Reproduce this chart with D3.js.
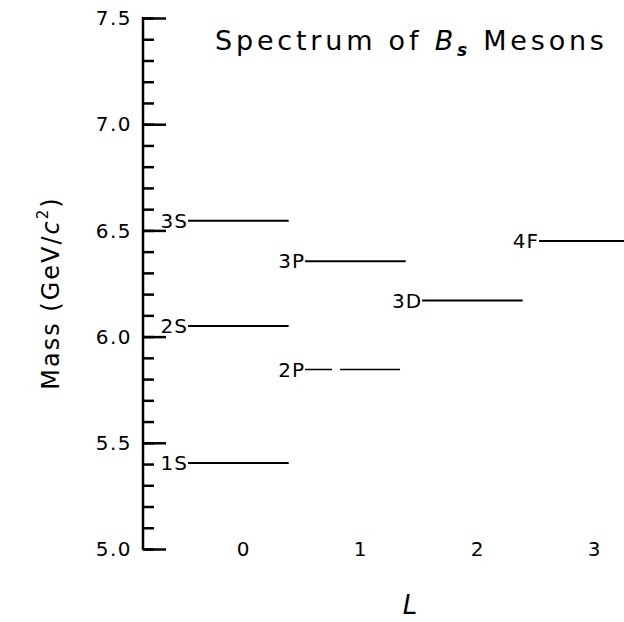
<!DOCTYPE html>
<html><head><meta charset="utf-8">
<script src="https://cdn.jsdelivr.net/npm/d3@7"></script>
<style>body{margin:0;background:#fff}text{font-family:"DejaVu Sans",sans-serif;fill:#000}</style>
</head><body><svg id="c" width="624" height="622"></svg>
<script>
const states = ["1S","2S","3S","2P","3P","3D","4F"];
const Lvals  = [0,0,0,1,1,2,3];
const masses = [5.405,6.05,6.545,5.845,6.355,6.17,6.45];
const xTicks = [0,1,2,3];
const yMajor = [5.0,5.5,6.0,6.5,7.0,7.5];

const svg = d3.select("#c");
const x = d3.scaleLinear().domain([-0.855,3.256]).range([143,624]);
const y = d3.scaleLinear().domain([5,7.5]).range([549,18]);

// y axis
const yAxisMinor = d3.axisRight(y).tickValues(d3.range(50,76).map(v=>v/10)).tickSize(11).tickFormat("");
const gMin = svg.append("g").attr("transform","translate(143,0)").call(yAxisMinor);
gMin.select(".domain").remove();
gMin.selectAll("line").attr("stroke","#000").attr("stroke-width",2.5);
const yAxisMajor = d3.axisRight(y).tickValues(yMajor).tickSize(23).tickFormat("");
const gMaj = svg.append("g").attr("transform","translate(143,0)").call(yAxisMajor);
gMaj.select(".domain").remove();
gMaj.selectAll("line").attr("stroke","#000").attr("stroke-width",2.5);
svg.append("line").attr("x1",143).attr("x2",143).attr("y1",y(5)+1).attr("y2",y(7.5)-1).attr("stroke","#000").attr("stroke-width",2.5);
svg.append("g").selectAll("text").data(yMajor).join("text")
  .attr("x",132).attr("y",d=>y(d)).attr("dy","0.36em").attr("text-anchor","end")
  .attr("font-size",20).attr("letter-spacing",1.5).text(d=>d.toFixed(1));

// x tick labels
svg.append("g").selectAll("text").data(xTicks).join("text")
  .attr("x",d=>x(d)).attr("y",y(5)).attr("dy","0.36em").attr("text-anchor","middle")
  .attr("font-size",20).text(d=>d);

// levels
const lv = svg.append("g");
states.forEach((s,i)=>{
  const x1 = x(Lvals[i]-0.47), x2 = x(Lvals[i]+0.39);
  const ln = lv.append("line").attr("x1",x1).attr("x2",x2).attr("y1",y(masses[i])).attr("y2",y(masses[i]))
    .attr("stroke","#000").attr("stroke-width",2);
  if (s==="2P") ln.attr("stroke-dasharray","27,8,60").attr("stroke-width",1.5);
  lv.append("text").attr("x",x1).attr("y",y(masses[i])).attr("dy","0.36em").attr("text-anchor","end")
    .attr("font-size",20).attr("letter-spacing",1).text(s);
});

// title
const t = svg.append("text").attr("x",215).attr("y",50).attr("font-size",27).attr("letter-spacing",3.8);
t.append("tspan").text("Spectrum of ");
t.append("tspan").attr("font-style","italic").text("B");
t.append("tspan").attr("font-size",17).attr("font-weight","bold").attr("font-style","italic").attr("dy",6).text("s");
t.append("tspan").attr("dy",-6).text(" Mesons");

// axis titles
svg.append("text").attr("x",410).attr("y",614).attr("text-anchor","middle").attr("font-size",26).attr("font-style","italic").text("L");
const yl = svg.append("text").attr("transform","translate(59,293) rotate(-90)").attr("text-anchor","middle").attr("font-size",24).attr("letter-spacing",2);
yl.append("tspan").text("Mass (GeV/");
yl.append("tspan").attr("font-style","italic").text("c");
yl.append("tspan").attr("font-size",15).attr("dy",-11).text("2");
yl.append("tspan").attr("dy",11).text(")");
</script></body></html>
